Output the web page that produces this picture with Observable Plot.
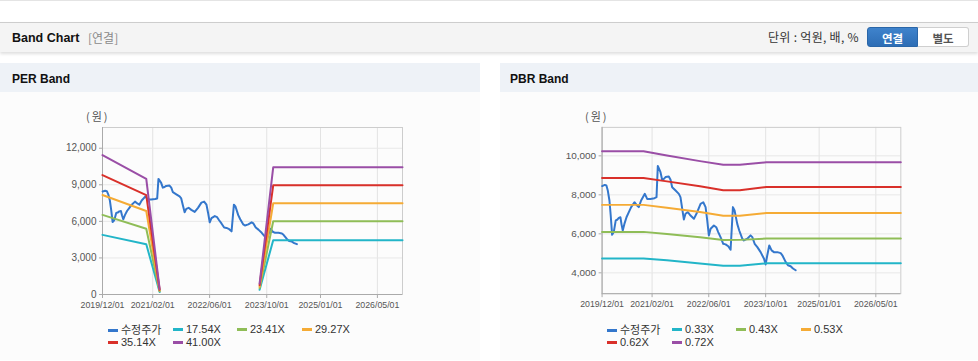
<!DOCTYPE html>
<html>
<head>
<meta charset="utf-8">
<script src="https://cdn.jsdelivr.net/npm/d3@7"></script>
<script src="https://cdn.jsdelivr.net/npm/@observablehq/plot@0.6"></script>
<style>
  html, body { margin: 0; padding: 0; background: #fff; }
  #root { position: relative; width: 978px; height: 361px; overflow: hidden; font-family: "Liberation Sans", Arial, "Noto Sans CJK KR", sans-serif; }
  .abs { position: absolute; }
  .topline { left: 0; top: 0; width: 978px; height: 1px; background: #e4e4e4; }
  .hdr { left: 0; top: 22px; width: 978px; height: 29px; background: #f4f4f4; border-top: 1px solid #cdcdcd; box-shadow: 0 2px 3px rgba(0,0,0,0.13); }
  .ttl { font-weight: bold; font-size: 12.5px; color: #111; white-space: nowrap; }
  .sub { font-size: 12px; color: #8a8a8a; white-space: nowrap; font-family: "Noto Sans CJK KR", sans-serif; }
  .unit { font-size: 12px; color: #333; white-space: nowrap; font-family: "Noto Sans CJK KR", sans-serif; letter-spacing: 0.3px; }
  .btn { height: 20px; line-height: 20px; text-align: center; font-size: 11.5px; font-weight: bold; font-family: "Noto Sans CJK KR", sans-serif; box-sizing: border-box; }
  .phdr { top: 63px; height: 29px; background: #eef2f7; }
  .pbody { top: 92px; height: 268px; background: #fcfcfc; }
  .ylab { font-size: 11px; color: #555; font-family: "Noto Sans CJK KR", sans-serif; white-space: nowrap; letter-spacing: 2px; }
  .leg { font-size: 11px; color: #333; white-space: nowrap; height: 14px; line-height: 14px; }
  .leg i { display: inline-block; width: 10px; height: 3px; vertical-align: middle; margin-right: 3px; margin-top: -2px; }
  .leg .ko { font-family: "Noto Sans CJK KR", sans-serif; font-size: 11px; }
</style>
</head>
<body>
<div id="root">
  <div class="abs topline"></div>
  <div class="abs hdr"></div>
  <div class="abs ttl" style="left:12px; top:31px;">Band Chart</div>
  <div class="abs sub" style="left:88px; top:29px;">[연결]</div>
  <div class="abs unit" style="left:768px; top:28px;">단위 : 억원, 배, %</div>
  <div class="abs btn" style="left:867px; top:27px; width:51px; color:#fff; background:linear-gradient(#3f83cc,#2d6db5); border:1px solid #2a66a8; border-radius:3px 0 0 3px;">연결</div>
  <div class="abs btn" style="left:918px; top:27px; width:51px; color:#555; background:#fff; border:1px solid #cfcfcf; border-left:none; border-radius:0 3px 3px 0;">별도</div>

  <div class="abs phdr" style="left:0; width:480px;"></div>
  <div class="abs pbody" style="left:0; width:480px;"></div>
  <div class="abs ttl" style="left:12px; top:72px; font-size:12px;">PER Band</div>
  <div class="abs phdr" style="left:500px; width:478px;"></div>
  <div class="abs pbody" style="left:500px; width:478px;"></div>
  <div class="abs ttl" style="left:510px; top:72px; font-size:12px;">PBR Band</div>

  <div class="abs ylab" style="left:86px; top:108px;">(원)</div>
  <div class="abs ylab" style="left:585px; top:108px;">(원)</div>

  <div id="per" class="abs" style="left:0; top:100px;"></div>
  <div id="pbr" class="abs" style="left:500px; top:100px;"></div>
</div>
<script>
// ---------- data ----------
const xTickDates = ["2019-12-01", "2021-02-01", "2022-06-01", "2023-10-01", "2025-01-01", "2026-05-01"];
const xDomainDates = ["2019-12-01", "2026-12-01"];
const perYTicks = [0, 3000, 6000, 9000, 12000];
const pbrYTicks = [4000, 6000, 8000, 10000];

const priceDates = [
  "2019-12-02","2019-12-24","2020-01-07","2020-01-19","2020-02-02","2020-02-13","2020-02-25","2020-03-10",
  "2020-03-27","2020-04-08","2020-04-22","2020-05-06","2020-05-15","2020-05-26","2020-06-09","2020-06-27",
  "2020-07-17","2020-08-06","2020-09-03","2020-09-26","2020-10-10","2020-10-30","2020-12-01","2020-12-21",
  "2021-01-18","2021-02-22","2021-03-11","2021-03-22","2021-04-14","2021-04-28","2021-05-13","2021-05-27",
  "2021-06-24","2021-07-09","2021-07-23","2021-08-21","2021-09-18","2021-10-02","2021-10-17","2021-10-31",
  "2021-11-14","2021-12-04","2021-12-27","2022-01-25","2022-02-22","2022-03-23","2022-04-15","2022-05-05",
  "2022-05-19","2022-06-02","2022-06-17","2022-07-15","2022-08-04","2022-08-21","2022-09-10","2022-10-03",
  "2022-10-23","2022-11-15","2022-12-05","2022-12-25","2023-01-08","2023-01-31","2023-02-17","2023-03-15",
  "2023-03-29","2023-04-27","2023-05-25","2023-06-09","2023-06-29","2023-07-22","2023-08-19","2023-09-17",
  "2023-10-01","2023-10-15","2023-11-01","2023-11-21","2023-12-11","2024-01-09","2024-02-07","2024-02-21",
  "2024-03-20","2024-04-09","2024-05-02","2024-05-22","2024-06-14"
];
const priceValues = [
  8450, 8510, 8480, 8220, 7710, 6940, 5950, 6090,
  6690, 6720, 6820, 6850, 6500, 6170, 6510, 6850,
  7110, 7370, 7620, 7450, 7370, 7710, 8050, 7790,
  7790, 7830, 7880, 9480, 9160, 8770, 8820, 8910,
  8940, 8770, 8390, 8220, 8050, 7880, 7280, 6740,
  7030, 7110, 6940, 6770, 7110, 7540, 7620, 7370,
  6690, 5920, 6260, 6430, 6340, 6090, 5830, 5490,
  5460, 5360, 5180, 7370, 7200, 6510, 6170, 5750,
  5660, 5750, 5920, 5830, 5490, 5320, 5060, 4720,
  4430, 4900, 5400, 5150, 5060, 5060, 5010, 4900,
  4560, 4390, 4340, 4220, 4130
];

// PER band (null = no data)
const perBandDates = ["2019-12-01", "2020-12-08", "2021-04-01", "2021-04-02", "2023-08-01", "2023-11-25", "2026-12-01"];
const perBandNames = ["17.54X", "23.41X", "29.27X", "35.14X", "41.00X"];
const per1754 = [4893, 4120, 200, null, 386, 4451, 4451];
const per2341 = [6530, 5400, 260, null, 515, 6008, 6008];
const per2927 = [8165, 6850, 320, null, 644, 7484, 7484];
const per3514 = [9800, 8150, 390, null, 773, 8960, 8960];
const per4100 = [11430, 9480, 450, null, 900, 10434, 10434];

// PBR band
const pbrBandDates = ["2019-12-01", "2020-11-20", "2021-06-08", "2022-03-18", "2022-10-03", "2023-02-22", "2023-10-07", "2026-12-01"];
const pbrBandNames = ["0.33X", "0.43X", "0.53X", "0.62X", "0.72X"];
const pbr033 = [4730, 4730, 4640, 4480, 4357, 4360, 4490, 4490];
const pbr043 = [6100, 6100, 5990, 5820, 5684, 5690, 5760, 5760];
const pbr053 = [7485, 7485, 7340, 7120, 6923, 6930, 7070, 7070];
const pbr062 = [8862, 8862, 8690, 8440, 8235, 8240, 8400, 8400];
const pbr072 = [10240, 10240, 10020, 9730, 9546, 9546, 9670, 9670];

const priceName = "수정주가";
const seriesColors = ["#3477cc", "#22b5c8", "#8fbd57", "#f5ab35", "#d9302a", "#9a4ea6"];

// ---------- build ----------
const D = s => new Date(s + "T00:00:00Z");
const xTicks = xTickDates.map(D);
const xDomain = xDomainDates.map(D);
const priceRows = priceDates.map((d, i) => ({date: D(d), value: priceValues[i]}));
const rows = (dates, vals) => dates.map((d, i) => ({date: D(d), value: vals[i]}));

function chart(yDomain, yTicks, bandDates, bandVals) {
  const marks = [
    Plot.gridX(xTicks, {stroke: "#e3e3e3", strokeOpacity: 1}),
    Plot.gridY(yTicks, {stroke: "#e8e8e8", strokeOpacity: 1}),
    Plot.frame({stroke: "#cdcdcd"}),
    Plot.axisX(xTicks, {tickFormat: d3.utcFormat("%Y/%m/%d"), tickSize: 4, tickPadding: 3, fontSize: 8.8, stroke: "#aaa", label: null}),
    Plot.axisY(yTicks, {tickFormat: d3.format(","), tickSize: 3, tickPadding: 3, fontSize: 10, stroke: "#aaa", label: null}),
    Plot.ruleX([xDomain[0]], {stroke: "#aaa"}),
    Plot.ruleY([yDomain[0]], {stroke: "#aaa"}),
    Plot.lineY(priceRows, {x: "date", y: "value", stroke: seriesColors[0], strokeWidth: 2})
  ];
  bandVals.forEach((vals, i) => {
    marks.push(Plot.lineY(rows(bandDates, vals), {x: "date", y: "value", stroke: seriesColors[i + 1], strokeWidth: 2}));
  });
  return Plot.plot({
    width: 480, height: 230,
    marginLeft: 102, marginRight: 78, marginTop: 27, marginBottom: 36,
    style: {fontFamily: "'Liberation Sans', Arial, sans-serif", color: "#555", background: "transparent", overflow: "visible"},
    x: {type: "utc", domain: xDomain},
    y: {domain: yDomain},
    marks
  });
}

document.getElementById("per").appendChild(
  chart([0, 13700], perYTicks, perBandDates, [per1754, per2341, per2927, per3514, per4100]));
document.getElementById("pbr").appendChild(
  chart([2930, 11460], pbrYTicks, pbrBandDates, [pbr033, pbr043, pbr053, pbr062, pbr072]));

function legend(x0, names) {
  const root = document.getElementById("root");
  const all = [priceName].concat(names);
  const colX = [0, 65, 129, 194];
  all.forEach((n, i) => {
    const el = document.createElement("div");
    el.className = "abs leg";
    const col = i % 4, row = Math.floor(i / 4);
    el.style.left = (x0 + colX[col]) + "px";
    el.style.top = (322 + row * 13) + "px";
    const sw = document.createElement("i");
    sw.style.background = seriesColors[i];
    const tx = document.createElement("span");
    tx.textContent = n;
    if (i === 0) tx.className = "ko";
    el.appendChild(sw); el.appendChild(tx);
    root.appendChild(el);
  });
}
legend(108, perBandNames);
legend(607, pbrBandNames);
</script>
</body>
</html>
